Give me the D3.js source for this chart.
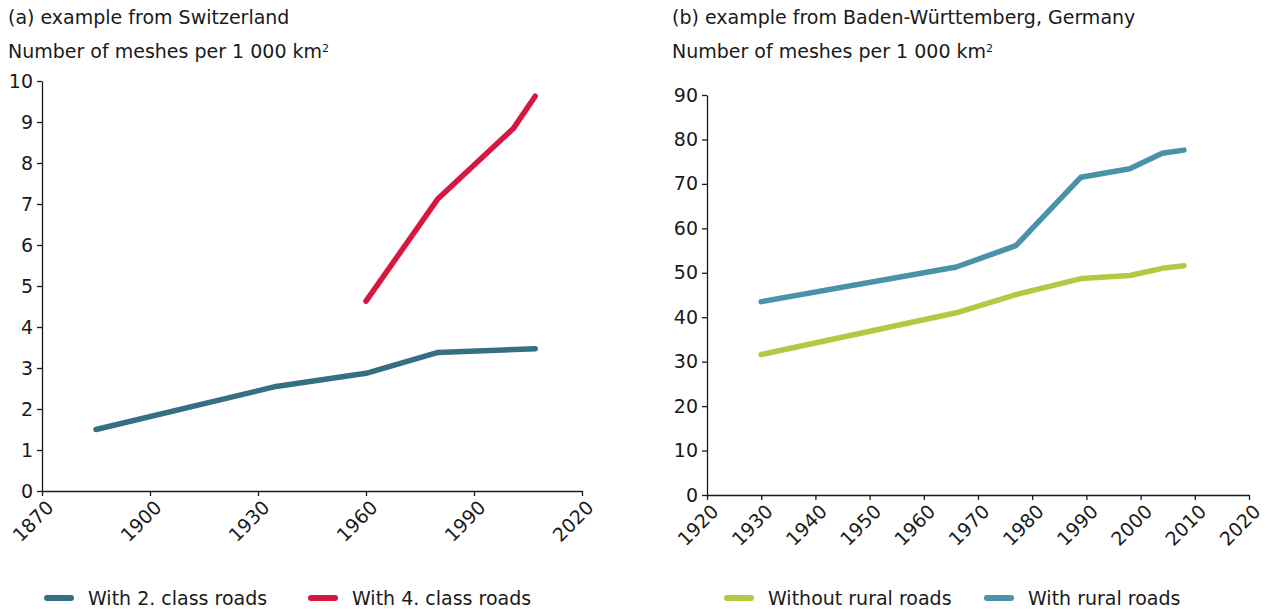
<!DOCTYPE html>
<html>
<head>
<meta charset="utf-8">
<script src="https://d3js.org/d3.v7.min.js"></script>
<style>
  body { margin: 0; background: #fff; }
  svg text { font-family: Verdana, "DejaVu Sans", sans-serif; fill: #1a1a1a; }
  .axis path, .axis line { stroke: #1a1a1a; stroke-width: 1.3; }
</style>
</head>
<body>
<svg id="chart" width="1269" height="609"></svg>
<script>
// (a) Switzerland
var swYears2 = [1885, 1935, 1960, 1980, 2007];
var swClass2 = [1.5, 2.55, 2.87, 3.38, 3.47];
var swYears4 = [1960, 1980, 2001, 2007];
var swClass4 = [4.63, 7.13, 8.85, 9.63];
var swXTicks = [1870, 1900, 1930, 1960, 1990, 2020];
var swYTicks = [0, 1, 2, 3, 4, 5, 6, 7, 8, 9, 10];

// (b) Baden-Wuerttemberg
var bwYears = [1930, 1966, 1977, 1989, 1998, 2004, 2008];
var bwWithout = [31.6, 41.0, 45.1, 48.7, 49.4, 51.0, 51.6];
var bwWith = [43.5, 51.3, 56.1, 71.5, 73.4, 76.9, 77.6];
var bwXTicks = [1920, 1930, 1940, 1950, 1960, 1970, 1980, 1990, 2000, 2010, 2020];
var bwYTicks = [0, 10, 20, 30, 40, 50, 60, 70, 80, 90];

var svg = d3.select("#chart");
var fs = "19px";

function panel(opt) {
  var x = d3.scaleLinear().domain(opt.xDomain).range(opt.xRange);
  var y = d3.scaleLinear().domain(opt.yDomain).range(opt.yRange);

  svg.append("text").attr("x", opt.titleX).attr("y", 24)
    .style("font-size", fs).text(opt.title);
  var yl = svg.append("text").attr("x", opt.titleX).attr("y", 58).style("font-size", fs);
  yl.append("tspan").text("Number of meshes per 1 000 km");
  yl.append("tspan").attr("dy", -6).style("font-size", "11px").text("2");

  svg.append("g").attr("class", "axis")
    .attr("transform", "translate(" + opt.xRange[0] + ",0)")
    .call(d3.axisLeft(y).tickValues(opt.yTicks).tickSize(5).tickPadding(4).tickSizeOuter(0))
    .call(g => g.selectAll("text").style("font-size", fs).attr("fill", "#1a1a1a"));

  var xa = svg.append("g").attr("class", "axis")
    .attr("transform", "translate(0," + opt.yRange[0] + ")")
    .call(d3.axisBottom(x).tickValues(opt.xTicks).tickFormat(d3.format("d")).tickSize(5).tickSizeOuter(0));
  xa.selectAll("text")
    .style("font-size", fs).attr("fill", "#1a1a1a")
    .attr("text-anchor", "end")
    .attr("dx", "-0.2em").attr("dy", "0.7em")
    .attr("transform", "rotate(-45)");

  var line = d3.line().x(d => x(d[0])).y(d => y(d[1]));
  opt.series.forEach(function(s) {
    svg.append("path")
      .datum(d3.zip(s.years, s.values))
      .attr("d", line)
      .attr("fill", "none")
      .attr("stroke", s.color)
      .attr("stroke-width", 5.5)
      .attr("stroke-linecap", "round")
      .attr("stroke-linejoin", "round");
  });

  // legend
  opt.series.forEach(function(s, i) {
    var lx = opt.legendX[i];
    svg.append("line")
      .attr("x1", lx + 2).attr("x2", lx + 26).attr("y1", 598).attr("y2", 598)
      .attr("stroke", s.color).attr("stroke-width", 6).attr("stroke-linecap", "round");
    svg.append("text").attr("x", lx + 43).attr("y", 605)
      .style("font-size", fs).text(s.name);
  });
}

panel({
  title: "(a) example from Switzerland", titleX: 8,
  xDomain: [1870, 2020], xRange: [42, 582],
  yDomain: [0, 10], yRange: [491, 81],
  xTicks: swXTicks, yTicks: swYTicks,
  legendX: [45, 309],
  series: [
    { name: "With 2. class roads", years: swYears2, values: swClass2, color: "#376F82" },
    { name: "With 4. class roads", years: swYears4, values: swClass4, color: "#D7173F" }
  ]
});

panel({
  title: "(b) example from Baden-Württemberg, Germany", titleX: 672,
  xDomain: [1920, 2020], xRange: [707, 1249],
  yDomain: [0, 90], yRange: [495, 95],
  xTicks: bwXTicks, yTicks: bwYTicks,
  legendX: [725, 985],
  series: [
    { name: "Without rural roads", years: bwYears, values: bwWithout, color: "#B3C843" },
    { name: "With rural roads", years: bwYears, values: bwWith, color: "#4A92A9" }
  ]
});
</script>
</body>
</html>
